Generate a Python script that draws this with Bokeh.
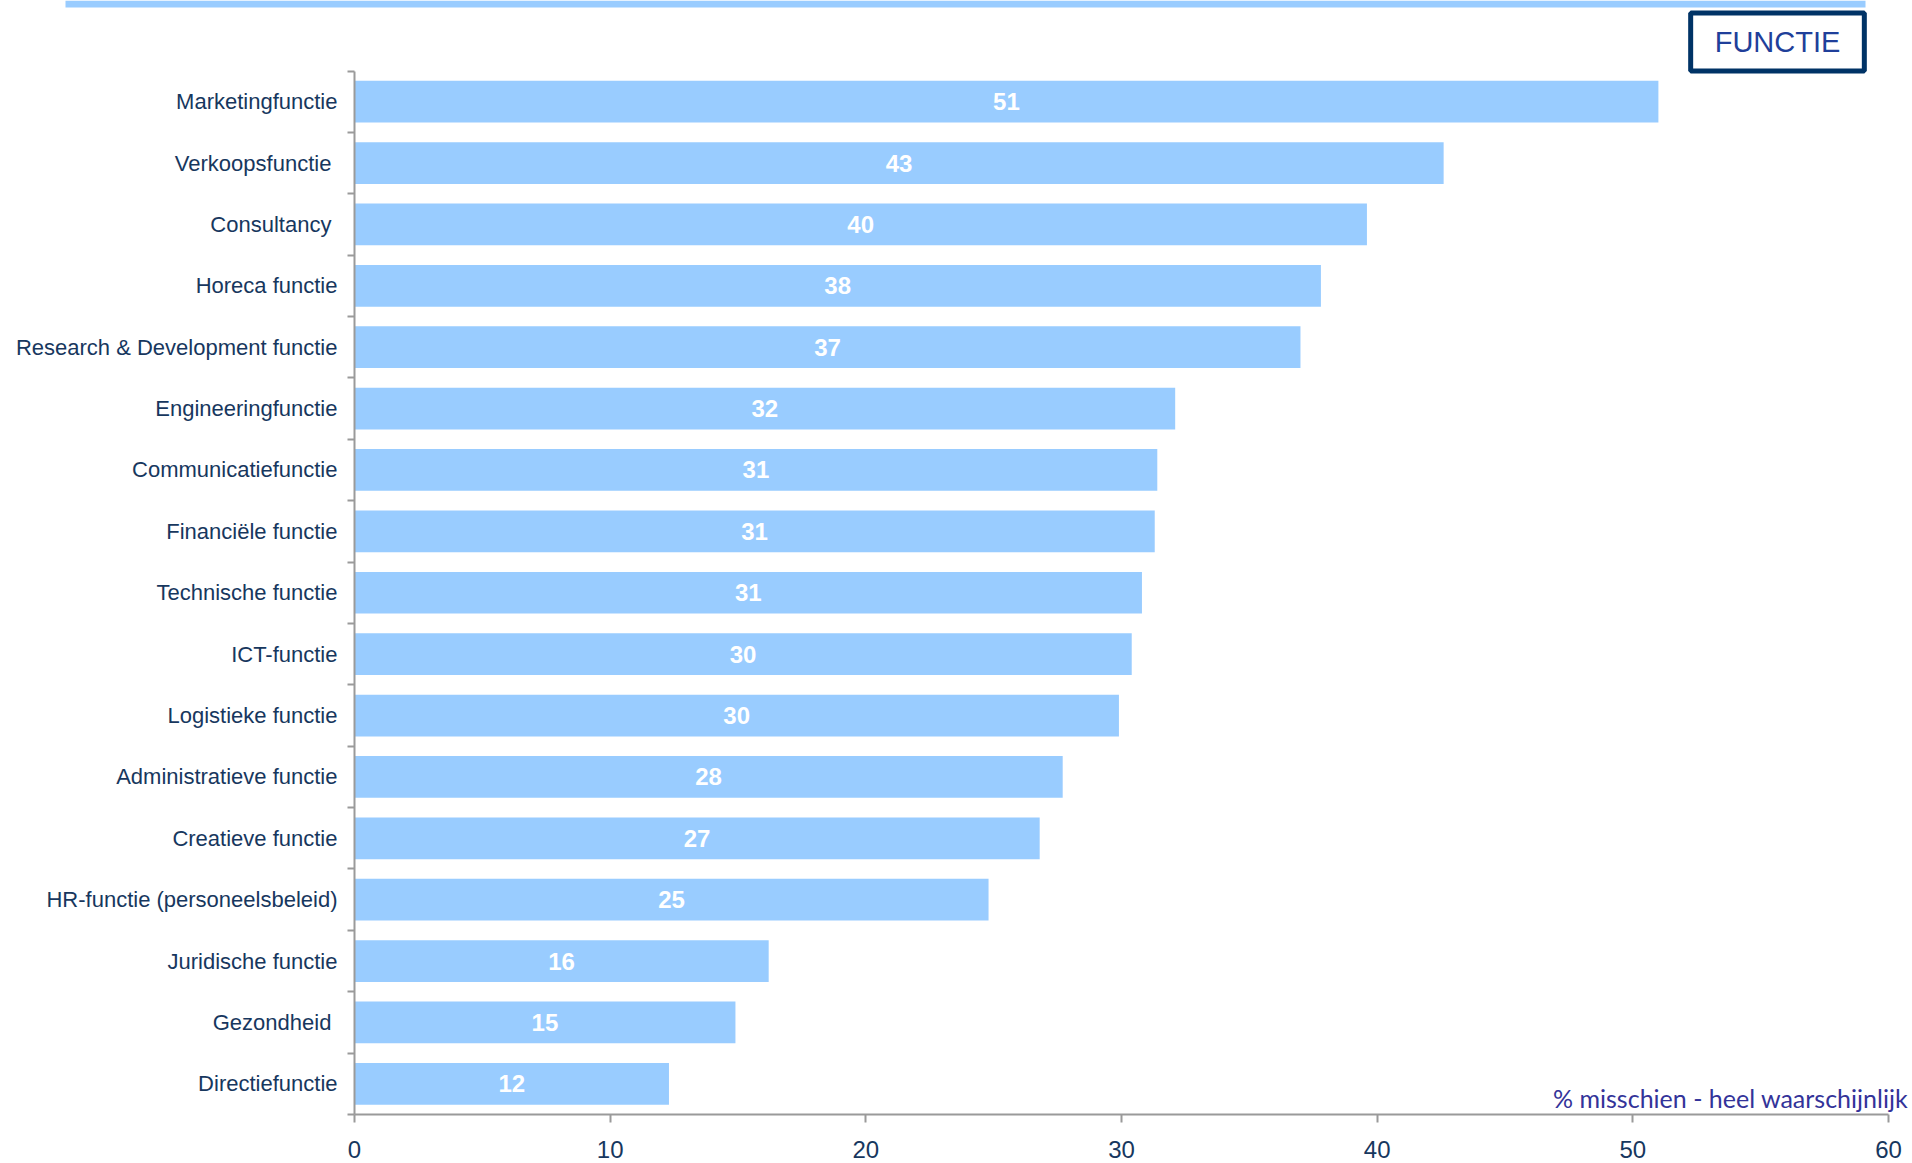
from bokeh.plotting import figure
from bokeh.models import Range1d, FixedTicker, BoxAnnotation, Label, ColumnDataSource
from bokeh.core.properties import value
from bokeh.embed import file_html
from bokeh.resources import INLINE

# ---- data (top to bottom) ----
categories = [
    "Marketingfunctie",
    "Verkoopsfunctie\u00a0",
    "Consultancy\u00a0",
    "Horeca functie",
    "Research & Development functie",
    "Engineeringfunctie",
    "Communicatiefunctie",
    "Financi\u00eble functie",
    "Technische functie",
    "ICT-functie",
    "Logistieke functie",
    "Administratieve functie",
    "Creatieve functie",
    "HR-functie (personeelsbeleid)",
    "Juridische functie",
    "Gezondheid\u00a0",
    "Directiefunctie",
]
values = [51.0, 42.6, 39.6, 37.8, 37.0, 32.1, 31.4, 31.3, 30.8, 30.4,
          29.9, 27.7, 26.8, 24.8, 16.2, 14.9, 12.3]
x_ticks = [0, 10, 20, 30, 40, 50, 60]
title_text = "FUNCTIE"
note_text = "% misschien  - heel waarschijnlijk"

n = len(categories)
ypos = [n - i for i in range(n)]
src = ColumnDataSource(dict(
    y=ypos,
    v=values,
    mid=[v / 2 for v in values],
    lab=[str(round(v)) for v in values],
))

NAVY = "#17375E"
AXIS = "#9a9a9a"
BAR = "#99CCFF"
FONT = "Liberation Sans"

W, H = 1912, 1163
# pixel geometry of the data area (x: 0..60, y: 0.5..n+0.5)
X0, X60 = 354.0, 1888.0
YT, YB = 70.5, 1114.0
XS = (X60 - X0) / 60.0
YS = (YB - YT) / n
def dx(px):
    return (px - X0) / XS
def dy(py):
    return (n + 0.5) - (py - YT) / YS

p = figure(width=W, height=H, output_backend="svg", toolbar_location=None,
           x_range=Range1d(dx(0), dx(W)), y_range=Range1d(dy(H), dy(0)),
           min_border=0, min_border_left=0, min_border_right=0,
           min_border_top=0, min_border_bottom=0)
p.outline_line_color = None
p.xgrid.visible = False
p.ygrid.visible = False
p.background_fill_color = "white"
p.border_fill_color = "white"

p.hbar(y="y", left=0, right="v", height=0.68, source=src,
       fill_color=BAR, line_color=None)
p.text(x="mid", y="y", text="lab", source=src, text_align="center",
       text_baseline="middle", text_color="white",
       text_font=value(FONT), text_font_style="bold", text_font_size="24px")

# x axis
xa = p.xaxis[0]
xa.fixed_location = 0.5
xa.bounds = (0, 60)
xa.ticker = FixedTicker(ticks=x_ticks)
xa.axis_line_color = AXIS
xa.axis_line_width = 2
xa.major_tick_line_color = AXIS
xa.major_tick_line_width = 2
xa.major_tick_out = 8
xa.major_tick_in = 0
xa.minor_tick_line_color = None
xa.major_label_text_color = NAVY
xa.major_label_text_font = FONT
xa.major_label_text_font_size = "24px"
xa.major_label_standoff = 18

# y axis
ya = p.yaxis[0]
ya.fixed_location = 0
ya.bounds = (0.5, n + 0.5)
ya.ticker = FixedTicker(ticks=ypos, minor_ticks=[k + 0.5 for k in range(0, n + 1)])
ya.major_label_overrides = {y: c for y, c in zip(ypos, categories)}
ya.axis_line_color = AXIS
ya.axis_line_width = 2
ya.major_tick_line_color = None
ya.major_tick_out = 0
ya.major_tick_in = 0
ya.minor_tick_line_color = AXIS
ya.minor_tick_line_width = 2
ya.minor_tick_out = 7
ya.minor_tick_in = 0
ya.major_label_text_color = NAVY
ya.major_label_text_font = FONT
ya.major_label_text_font_size = "22px"
ya.major_label_standoff = 10

# decorations
p.add_layout(BoxAnnotation(left=dx(65), right=dx(1865), top=dy(0), bottom=dy(7),
                           fill_color=BAR, fill_alpha=1, line_color=None))
p.add_layout(Label(x=dx(1777), y=dy(41.5), text=title_text, text_align="center",
                   text_baseline="middle", text_color="#1f3f9a",
                   text_font="Liberation Sans", text_font_size="29px",
                   border_line_color="#003366", border_line_width=5,
                   background_fill_color="white",
                   padding=dict(left=24, right=24, top=13, bottom=13)))
p.add_layout(Label(x=dx(1914), y=dy(1097), text=note_text, text_align="right",
                   text_baseline="alphabetic", text_color="#333399",
                   text_font="Lato", text_font_size="25px"))

open("out.html", "w").write(file_html(p, INLINE))
